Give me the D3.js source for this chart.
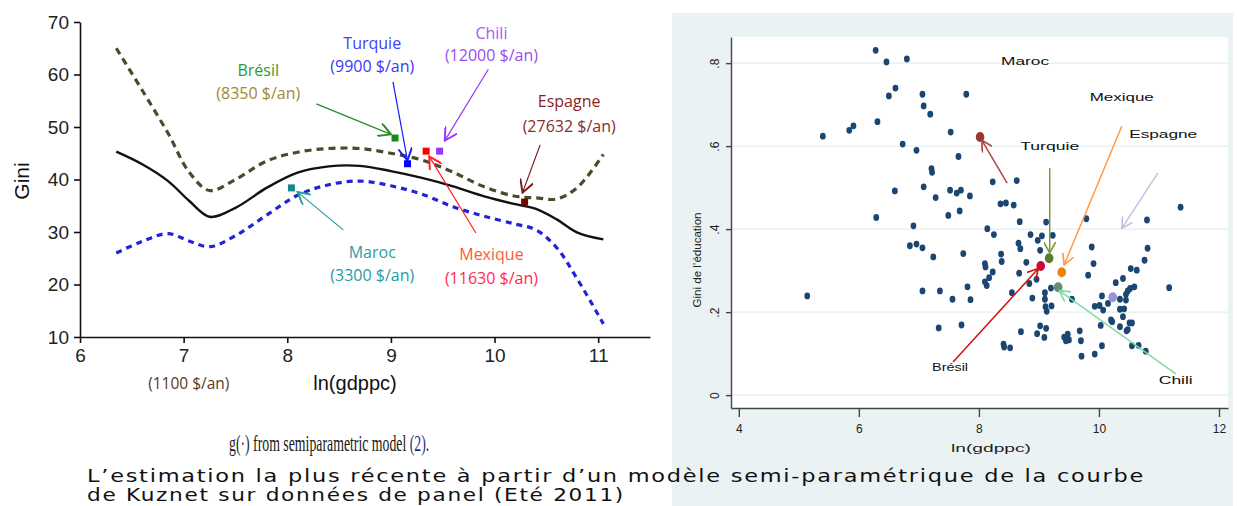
<!DOCTYPE html>
<html>
<head>
<meta charset="utf-8">
<script src="https://cdn.jsdelivr.net/npm/d3@7"></script>
<style>
  body { margin: 0; background: #fff; }
  svg { display: block; }
</style>
</head>
<body>
<div id="chart"></div>
<script>
/* global d3 */

// ---- left panel data: semiparametric Kuznets curve
const curveX = [6.35, 6.6, 6.85, 7.05, 7.25, 7.5, 7.8, 8.1, 8.4, 8.7, 9.0, 9.3, 9.6, 9.9, 10.2, 10.4, 10.6, 10.8, 11.05]
const fitGini = [45.3, 42.9, 39.7, 36.0, 32.9, 34.6, 38.4, 41.3, 42.5, 42.6, 41.6, 40.3, 38.7, 36.8, 35.3, 34.4, 32.4, 29.9, 28.6]
const upperGini = [65, 57, 48.8, 41.5, 37.9, 40.0, 43.5, 45.2, 45.9, 45.9, 45.0, 43.7, 41.4, 38.6, 36.8, 36.5, 36.3, 38.5, 44.8]
const lowerGini = [26, 28.2, 29.7, 28.3, 27.2, 29.3, 33.2, 37.0, 39.0, 39.7, 38.8, 37.2, 34.8, 33.0, 31.5, 30.4, 27.0, 21.0, 12.5]

const leftTicksX = [6, 7, 8, 9, 10, 11]
const leftTicksY = [10, 20, 30, 40, 50, 60, 70]

const countryNames = ['Brésil', 'Turquie', 'Chili', 'Espagne', 'Maroc', 'Mexique']
const countryIncome = ['(8350 $/an)', '(9900 $/an)', '(12000 $/an)', '(27632 $/an)', '(3300 $/an)', '(11630 $/an)']
const countryX = [9.04, 9.16, 9.47, 10.29, 8.04, 9.34]
const countryY = [47.9, 43.0, 45.4, 35.7, 38.4, 45.4]

// ---- right panel data: education Gini vs ln(gdppc)
const gdpX = [6.28, 6.46, 6.80, 6.61, 6.50, 7.06, 7.08, 7.19, 6.31, 5.91, 5.84, 5.40, 7.53, 6.73, 6.96, 7.66, 7.21, 7.22, 7.08, 6.60,
  7.52, 7.63, 7.70, 7.28, 7.85, 6.29, 7.49, 7.68, 6.91, 6.85, 6.96, 7.06, 7.24, 7.74, 7.06, 7.35, 7.56, 5.14, 7.33, 7.81,
  7.86, 7.71, 7.79, 8.23, 8.63, 8.36, 8.45, 8.58, 8.68, 9.12, 8.14, 8.25, 8.86, 9.05, 8.98, 9.23, 8.66, 8.69, 9.02, 9.79,
  9.88, 10.80, 10.81, 11.36, 8.37, 8.38, 8.10, 8.11, 8.23, 8.17, 8.10, 8.13, 8.79, 8.67, 8.84, 8.96, 8.55, 8.89, 9.10, 9.20,
  9.10, 9.11, 9.13, 9.21, 9.55, 9.82, 9.91, 10.05, 10.15, 10.28, 10.40, 10.53, 10.63, 10.76, 11.17, 9.93, 10.01, 10.07, 10.35, 10.45,
  10.48, 10.52, 10.59, 10.45, 10.35, 10.42, 10.20, 10.22, 10.40, 10.03, 10.35, 10.51, 10.55, 10.48, 10.46, 9.02, 9.12, 8.70, 8.97, 9.09,
  9.42, 9.48, 9.50, 9.45, 9.68, 9.70, 8.41, 8.42, 8.52, 10.05, 10.55, 10.66, 10.78, 9.71, 9.93]
const eduGini = [0.831, 0.803, 0.810, 0.740, 0.721, 0.725, 0.697, 0.677, 0.659, 0.649, 0.638, 0.624, 0.634, 0.605, 0.590, 0.575, 0.546, 0.537, 0.502, 0.492,
  0.494, 0.487, 0.494, 0.476, 0.480, 0.428, 0.433, 0.444, 0.408, 0.360, 0.364, 0.355, 0.333, 0.341, 0.251, 0.251, 0.231, 0.239, 0.162, 0.261,
  0.230, 0.169, 0.725, 0.514, 0.517, 0.461, 0.463, 0.458, 0.418, 0.417, 0.401, 0.387, 0.387, 0.384, 0.373, 0.385, 0.366, 0.353, 0.349, 0.425,
  0.357, 0.422, 0.354, 0.453, 0.340, 0.322, 0.317, 0.309, 0.297, 0.283, 0.273, 0.264, 0.320, 0.294, 0.269, 0.279, 0.247, 0.234, 0.247, 0.258,
  0.231, 0.213, 0.202, 0.215, 0.231, 0.289, 0.317, 0.239, 0.221, 0.271, 0.281, 0.305, 0.301, 0.325, 0.259, 0.214, 0.216, 0.205, 0.231, 0.243,
  0.251, 0.257, 0.261, 0.229, 0.207, 0.208, 0.181, 0.177, 0.189, 0.168, 0.165, 0.174, 0.174, 0.158, 0.155, 0.167, 0.161, 0.153, 0.148, 0.139,
  0.140, 0.147, 0.133, 0.131, 0.155, 0.131, 0.123, 0.116, 0.114, 0.119, 0.119, 0.120, 0.106, 0.094, 0.099]

const hiNames = ['Maroc', 'Turquie', 'Mexique', 'Espagne', 'Brésil', 'Chili']
const hiX = [8.02, 9.17, 9.38, 10.23, 9.03, 9.32]
const hiY = [0.622, 0.330, 0.296, 0.236, 0.311, 0.260]

const rightTicksX = [4, 6, 8, 10, 12]
const rightTicksY = [0, 0.2, 0.4, 0.6, 0.8]
const rightTickLabels = ['0', '.2', '.4', '.6', '.8']

// ---- canvas
const width = 1237, height = 506
const svg = d3.select('#chart').append('svg')
  .attr('width', width).attr('height', height)

const defs = svg.append('defs')
let markerId = (color, size) => {
  let id = 'arr' + color.replace('#', '') + size
  if (defs.select('#' + id).empty()) {
    defs.append('marker')
      .attr('id', id)
      .attr('markerUnits', 'userSpaceOnUse')
      .attr('viewBox', '0 0 10 10')
      .attr('refX', 9).attr('refY', 5)
      .attr('markerWidth', size).attr('markerHeight', size)
      .attr('orient', 'auto')
      .append('path')
      .attr('d', 'M0,0 L9,5 L0,10')
      .attr('fill', 'none')
      .attr('stroke', color)
      .attr('stroke-width', 1.4)
  }
  return 'url(#' + id + ')'
}

// ================= LEFT PANEL =================
const xL = d3.scaleLinear().domain([6, 11.5]).range([80, 650])
const yL = d3.scaleLinear().domain([10, 70]).range([337, 22])

const left = svg.append('g')

const yAxisL = d3.axisLeft(yL).tickValues(leftTicksY).tickFormat(d3.format('d'))
  .tickSize(6).tickSizeOuter(0).tickPadding(5)
left.append('g').attr('transform', `translate(${xL(6)},0)`).call(yAxisL)
  .call(g => g.selectAll('text').attr('font-size', 19).attr('fill', '#222'))

const xAxisL = d3.axisBottom(xL).tickValues(leftTicksX).tickFormat(d3.format('d'))
  .tickSize(6).tickSizeOuter(0).tickPadding(6)
left.append('g').attr('transform', `translate(0,${yL(10)})`).call(xAxisL)
  .call(g => g.selectAll('text').attr('font-size', 19).attr('fill', '#222'))

left.selectAll('.domain, .tick line').attr('stroke', '#111').attr('stroke-width', 1.6)
left.selectAll('text').attr('font-family', 'Liberation Sans, Arial, sans-serif')

let lineL = ys => d3.line()
  .x((d, i) => xL(curveX[i]))
  .y(d => yL(d))
  .curve(d3.curveCatmullRom)(ys)

left.append('path').attr('d', lineL(upperGini))
  .attr('fill', 'none').attr('stroke', '#4a4a2c').attr('stroke-width', 3.2)
  .attr('stroke-dasharray', '7,5')
left.append('path').attr('d', lineL(lowerGini))
  .attr('fill', 'none').attr('stroke', '#2222d8').attr('stroke-width', 3.2)
  .attr('stroke-dasharray', '6,5')
left.append('path').attr('d', lineL(fitGini))
  .attr('fill', 'none').attr('stroke', '#111').attr('stroke-width', 2.4)

// annotation layout (data space): label centre, arrow start, arrow end
const leftNotes = [
  { name: '#2f9a2f', inc: '#a08a2c', line: '#2a8a2a', pt: '#1a8a1a', lx: 7.72, ly: [60.6, 56.2], a: [8.28, 54.4, 9.0, 48.6] },
  { name: '#4040ff', inc: '#3a3af0', line: '#1a1aff', pt: '#0000ff', lx: 8.82, ly: [65.7, 61.3], a: [9.02, 58.6, 9.16, 43.6] },
  { name: '#a858f5', inc: '#9a4cf0', line: '#9a33ff', pt: '#9933ff', lx: 9.97, ly: [67.6, 63.4], a: [9.94, 61.0, 9.52, 47.4] },
  { name: '#8a1e1e', inc: '#8a2a2a', line: '#7a1a1a', pt: '#7b0000', lx: 10.72, ly: [54.6, 49.9], a: [10.44, 46.6, 10.27, 37.5] },
  { name: '#2aa0a8', inc: '#2a9aa0', line: '#2a9a9a', pt: '#138888', lx: 8.82, ly: [25.8, 21.4], a: [8.54, 30.4, 8.1, 37.6] },
  { name: '#ff5a38', inc: '#ff2a50', line: '#ff2020', pt: '#ff0000', lx: 9.97, ly: [25.4, 20.9], a: [9.82, 29.8, 9.37, 44.4] }
]

countryNames.forEach((n, i) => {
  let s = leftNotes[i]
  left.append('line')
    .attr('x1', xL(s.a[0])).attr('y1', yL(s.a[1]))
    .attr('x2', xL(s.a[2])).attr('y2', yL(s.a[3]))
    .attr('stroke', s.line).attr('stroke-width', 1.2)
    .attr('marker-end', markerId(s.line, 14))
  left.append('rect')
    .attr('x', xL(countryX[i]) - 3.5).attr('y', yL(countryY[i]) - 3.5)
    .attr('width', 7).attr('height', 7)
    .attr('fill', s.pt)
  left.append('text')
    .attr('x', xL(s.lx)).attr('y', yL(s.ly[0]))
    .attr('text-anchor', 'middle').attr('dominant-baseline', 'middle')
    .attr('font-family', 'Open Sans, sans-serif').attr('font-size', 16)
    .attr('fill', s.name).text(n)
  left.append('text')
    .attr('x', xL(s.lx)).attr('y', yL(s.ly[1]))
    .attr('text-anchor', 'middle').attr('dominant-baseline', 'middle')
    .attr('font-family', 'Open Sans, sans-serif').attr('font-size', 16)
    .attr('fill', s.inc).text(countryIncome[i])
})

left.append('text')
  .attr('x', xL(7.05)).attr('y', yL(0.9))
  .attr('text-anchor', 'middle').attr('dominant-baseline', 'middle')
  .attr('font-family', 'Open Sans, sans-serif').attr('font-size', 15.5)
  .attr('fill', '#5a3a1e').text('(1100 $/an)')

left.append('text')
  .attr('x', 355).attr('y', 385)
  .attr('text-anchor', 'middle').attr('dominant-baseline', 'middle')
  .attr('font-family', 'Liberation Sans, Arial, sans-serif').attr('font-size', 20)
  .attr('fill', '#111')
  .text('ln(gdppc)')

left.append('text')
  .attr('transform', 'translate(29,181) rotate(-90)')
  .attr('text-anchor', 'middle')
  .attr('font-family', 'Liberation Sans, Arial, sans-serif').attr('font-size', 21)
  .attr('fill', '#111').text('Gini')

// caption, condensed serif
const cap = svg.append('text')
  .attr('transform', 'translate(229,451) scale(0.6,1)')
  .attr('font-family', 'Liberation Serif, serif').attr('font-size', 23)
  .attr('fill', '#1a1a1a')
cap.append('tspan').text('g(·) from semiparametric model ')
cap.append('tspan').attr('fill', '#2a2a8a').text('(2)')
cap.append('tspan').text('.')

// ================= RIGHT PANEL =================
svg.append('rect').attr('x', 672).attr('y', 13).attr('width', 561).attr('height', 493)
  .attr('fill', '#eaf2f3')

const xR = d3.scaleLinear().domain([3.87, 12.15]).range([731, 1228])
const yR = d3.scaleLinear().domain([-0.031, 0.863]).range([408, 37])

const right = svg.append('g')
right.append('rect')
  .attr('x', xR.range()[0]).attr('y', yR.range()[1])
  .attr('width', xR.range()[1] - xR.range()[0])
  .attr('height', yR.range()[0] - yR.range()[1])
  .attr('fill', '#fff')

right.selectAll('.grid').data(rightTicksY).enter().append('line')
  .attr('class', 'grid')
  .attr('x1', xR.range()[0]).attr('x2', xR.range()[1])
  .attr('y1', d => yR(d)).attr('y2', d => yR(d))
  .attr('stroke', '#e4eef0').attr('stroke-width', 1.2)

const yAxisR = d3.axisLeft(yR).tickValues(rightTicksY)
  .tickFormat((d, i) => rightTickLabels[i]).tickSize(5).tickSizeOuter(0)
right.append('g').attr('transform', `translate(${xR.range()[0]},0)`).call(yAxisR)
  .call(g => g.selectAll('text')
    .attr('transform', 'rotate(-90)')
    .attr('x', 0).attr('y', -12).attr('dy', 0)
    .attr('text-anchor', 'middle'))

const xAxisR = d3.axisBottom(xR).tickValues(rightTicksX).tickSize(9).tickSizeOuter(0).tickPadding(7)
right.append('g').attr('transform', `translate(0,${yR.range()[0]})`).call(xAxisR)

right.selectAll('.domain, .tick line').attr('stroke', '#444').attr('stroke-width', 1.4)
right.selectAll('.tick text')
  .attr('font-family', 'Liberation Sans, Arial, sans-serif')
  .attr('font-size', 12).attr('fill', '#222')

right.append('text')
  .attr('x', 991).attr('y', 449)
  .attr('text-anchor', 'middle').attr('dominant-baseline', 'middle')
  .attr('font-family', 'Liberation Sans, Arial, sans-serif').attr('font-size', 11.5)
  .attr('textLength', 80).attr('lengthAdjust', 'spacingAndGlyphs')
  .attr('fill', '#222').text('ln(gdppc)')

right.append('text')
  .attr('transform', 'translate(701,260) rotate(-90)')
  .attr('text-anchor', 'middle')
  .attr('font-family', 'Liberation Sans, Arial, sans-serif').attr('font-size', 11)
  .attr('textLength', 95).attr('lengthAdjust', 'spacingAndGlyphs')
  .attr('fill', '#222').text('Gini de l\u2019éducation')

right.selectAll('.dot').data(gdpX).enter().append('ellipse')
  .attr('class', 'dot')
  .attr('cx', d => xR(d))
  .attr('cy', (d, i) => yR(eduGini[i]))
  .attr('rx', 2.9).attr('ry', 3.4)
  .attr('fill', '#1b4672')

// highlight layout: dot colour, arrow colour, label centre, arrow start/end (data space)
const rightNotes = [
  { dot: '#9b3535', line: '#b04545', lx: 8.77, ly: 0.802, a: [8.47, 0.511, 8.05, 0.614], tl: 48 },
  { dot: '#5b7d2e', line: '#7a9a3a', lx: 9.18, ly: 0.598, a: [9.18, 0.547, 9.18, 0.343], tl: 59 },
  { dot: '#e8830e', line: '#ff9a4a', lx: 10.38, ly: 0.716, a: [10.38, 0.648, 9.42, 0.314], tl: 64 },
  { dot: '#9b92da', line: '#cbbde2', lx: 11.07, ly: 0.627, a: [10.98, 0.535, 10.38, 0.402], tl: 68 },
  { dot: '#cc0a3a', line: '#d01010', lx: 7.52, ly: 0.065, a: [7.57, 0.080, 8.99, 0.305], tl: 36 },
  { dot: '#6a8a78', line: '#80dca0', lx: 11.28, ly: 0.034, a: [11.28, 0.051, 9.34, 0.252], tl: 34 }
]

hiNames.forEach((n, i) => {
  let s = rightNotes[i]
  right.append('ellipse')
    .attr('cx', xR(hiX[i])).attr('cy', yR(hiY[i]))
    .attr('rx', 4.3).attr('ry', 5)
    .attr('fill', s.dot)
  right.append('line')
    .attr('x1', xR(s.a[0])).attr('y1', yR(s.a[1]))
    .attr('x2', xR(s.a[2])).attr('y2', yR(s.a[3]))
    .attr('stroke', s.line).attr('stroke-width', 1.5)
    .attr('marker-end', markerId(s.line, 12))
  right.append('text')
    .attr('x', xR(s.lx)).attr('y', yR(s.ly))
    .attr('text-anchor', 'middle').attr('dominant-baseline', 'middle')
    .attr('font-family', 'Liberation Sans, Arial, sans-serif').attr('font-size', 11.5)
    .attr('textLength', s.tl).attr('lengthAdjust', 'spacingAndGlyphs')
    .attr('fill', '#111').text(n)
})

// ================= FOOTNOTE =================
const noteLines = [
  'L\u2019estimation la plus récente à partir d\u2019un modèle semi-paramétrique de la courbe',
  'de Kuznet sur données de panel (Eté 2011)'
]
const noteWidths = [1058, 538]
noteLines.forEach((t, i) => {
  svg.append('text')
    .attr('x', 87).attr('y', 482 + i * 19)
    .attr('font-family', 'DejaVu Sans, sans-serif').attr('font-size', 18)
    .attr('letter-spacing', 1.4)
    .attr('textLength', noteWidths[i]).attr('lengthAdjust', 'spacingAndGlyphs')
    .attr('fill', '#111').text(t)
})
</script>
</body>
</html>
